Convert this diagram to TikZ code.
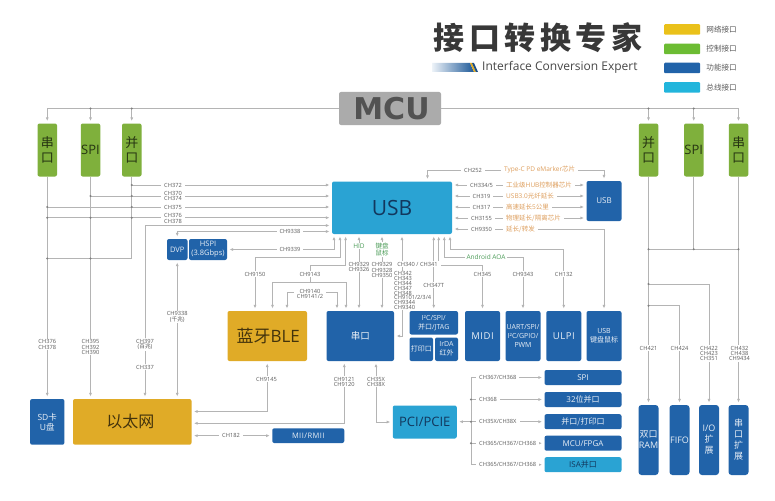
\documentclass[tikz,border=0pt]{standalone}
\usepackage{fontspec}
\setmainfont{Open Sans}
\newfontfamily\cjk{Noto Sans CJK SC}
\newfontfamily\titlecjk[LetterSpace=14.5]{Noto Sans CJK SC}
\newfontfamily\mcufont{DejaVu Sans}
\newfontfamily\widefont[LetterSpace=6]{Open Sans}
\newcommand{\zh}[1]{{\cjk #1}}
\usetikzlibrary{arrows.meta,positioning,shapes}
\definecolor{netgold}{HTML}{E0AB27}
\definecolor{ctrlgreen}{HTML}{7FB03C}
\definecolor{funcblue}{HTML}{2163A9}
\definecolor{buscyan}{HTML}{2AA3D3}
\definecolor{wiregray}{HTML}{B4B4B4}
\definecolor{labgray}{HTML}{5A5A5A}
\definecolor{chiporange}{HTML}{DE9F5E}
\definecolor{hidgreen}{HTML}{4C9C58}
\tikzset{
		basic/.style  = {rectangle, inner sep=0pt, outer sep=0pt, rounded corners=2pt, align=center},
		netbox/.style = {basic, fill=netgold, text=black!70!netgold},
		ctrlbox/.style = {basic, fill=ctrlgreen, text=black!70!ctrlgreen, font=\fontsize{13}{14.5}\selectfont},
		funcbox/.style = {basic, fill=funcblue, text=white!90!funcblue},
		busbox/.style = {basic, fill=buscyan, text=funcblue!55!black},
		legendbox/.style = {rectangle, rounded corners=1pt, minimum width=36pt, minimum height=10.5pt},
		wire/.style = {draw=wiregray, line width=.9pt},
		arr/.style = {wire, ->, shorten >=2.5pt},
		rarr/.style = {wire, <-, shorten <=2.5pt},
		biarr/.style = {wire, <->, shorten >=2.5pt, shorten <=2.5pt},
		lab/.style = {fill=white, inner xsep=3pt, inner ysep=1pt, align=center, text=labgray,
			font=\fontsize{5.7}{5.4}\selectfont},
		chip/.style = {fill=white, inner xsep=3pt, inner ysep=1pt, anchor=west, text=chiporange,
			font=\fontsize{6.5}{7}\selectfont},
		hid/.style = {fill=white, inner xsep=2pt, inner ysep=1pt, align=center, text=hidgreen,
			font=\fontsize{6.5}{7.2}\selectfont}
	}
\begin{document}
\begin{tikzpicture}[x=1pt, y=-1pt, >={Latex[length=3.6pt,width=3pt]}]
		\useasboundingbox (0,0) rectangle (775,500);
		\fill[white] (0,0) rectangle (775,500);
		% title and legend
		\node[text=black!78, font=\fontsize{31}{31}\selectfont\titlecjk\bfseries] (title) at (538,38) {接口转换专家};
		\node[text=black!72, font=\fontsize{12}{14}\selectfont, anchor=west, inner sep=0pt] (subtitle) at (482,67.5) {Interface Conversion Expert};
		\shade[left color=funcblue!8, right color=funcblue!90!black] (432,63) -- (470,63) -- (474,72) -- (432,72) -- cycle;
		\fill[netgold] (470,63) -- (472,63) -- (476,72) -- (474,72) -- cycle;
		\fill[funcblue!80!black] (472,63) -- (474,63) -- (478,72) -- (476,72) -- cycle;
		\node[legendbox, fill=netgold!70!yellow!95!orange] (leg1) at (682,29.5) {};
		\node[legendbox, fill=ctrlgreen!85!green] (leg2) at (682,49) {};
		\node[legendbox, fill=funcblue] (leg3) at (682,68) {};
		\node[legendbox, fill=buscyan!80!cyan] (leg4) at (682,87.5) {};
		\foreach \n/\t in {1/网络接口,2/控制接口,3/功能接口,4/总线接口}
		\node[right=6pt of leg\n, inner sep=0pt, text=labgray, font=\fontsize{7.6}{8}\selectfont\cjk] (legt\n) {\t};
		% the controller and its six columns
		\node[basic, fill=black!33, minimum width=102pt, minimum height=33pt] (mcu) at (390,108.5)
		{\hspace*{3pt}\fontsize{30}{30}\selectfont\mcufont\bfseries\textcolor{black!68}{MCU}};
		\begin{scope}[every node/.style={ctrlbox, minimum width=19.5pt, minimum height=53pt}]
			\node (serl) at (47.25,150) {\zh{串}\\\zh{口}};
			\node (spil) at (90.5,150) {SPI};
			\node (parl) at (131.75,150) {\zh{并}\\\zh{口}};
			\node (parr) at (648.5,150) {\zh{并}\\\zh{口}};
			\node (spir) at (693.75,150) {SPI};
			\node (serr) at (738.5,150) {\zh{串}\\\zh{口}};
		\end{scope}
		% USB and the boxes below it
		\node[busbox, minimum width=120pt, minimum height=52.5pt, font=\fontsize{21}{22}\selectfont] (usb) at (392,207.75) {USB};
		\node[funcbox, minimum width=35pt, minimum height=40pt, font=\fontsize{8}{9}\selectfont] (susb) at (604,201) {USB};
		\begin{scope}[every node/.style={funcbox, font=\fontsize{7.5}{9}\selectfont, minimum height=21pt}]
			\node[minimum width=20.5pt] (dvp) at (177.25,249.5) {DVP};
			\node[minimum width=38pt] (hspi) at (208,249.5) {HSPI\\(3.8Gbps)};
		\end{scope}
		\node[netbox, minimum width=79.5pt, minimum height=50pt, font=\fontsize{17}{20}\selectfont] (bt) at (267.25,336) {\hspace*{2pt}\zh{蓝牙}BLE};
		\begin{scope}[every node/.style={funcbox, font=\fontsize{7}{9}\selectfont}]
			\node[minimum width=67.5pt, minimum height=50pt, font=\fontsize{9.5}{10}\selectfont] (ser) at (360.25,336) {\zh{串口}};
			\node[minimum width=48.5pt, minimum height=23.5pt] (itc) at (433.75,322.75) {I²C/SPI/\\\zh{并口}/JTAG};
			\node[minimum width=23.5pt, minimum height=23.5pt] (prn) at (421.25,349.25) {\zh{打印口}};
			\node[minimum width=23pt, minimum height=23.5pt] (irda) at (446.5,349.25) {IrDA\\\zh{红外}};
			\node[minimum width=35pt, minimum height=50pt, font=\fontsize{9.5}{12}\selectfont\widefont] (midi) at (482.5,336) {MIDI};
			\node[minimum width=35pt, minimum height=50pt] (uart) at (523,336) {UART/SPI/\\I²C/GPIO/\\PWM};
			\node[minimum width=35pt, minimum height=50pt, font=\fontsize{9.5}{12}\selectfont\widefont] (ulpi) at (563.75,336) {ULPI};
			\node[minimum width=35pt, minimum height=50pt] (kbd) at (604,336) {USB\\\zh{键盘鼠标}};
		\end{scope}
		% bottom left
		\node[funcbox, minimum width=34.3pt, minimum height=45.7pt, font=\fontsize{8.5}{10}\selectfont] (sd) at (47.25,421.85) {SD\zh{卡}\\U\zh{盘}};
		\node[netbox, minimum width=118.5pt, minimum height=45.7pt, font=\fontsize{16}{16}\selectfont\cjk] (eth) at (132.25,421.85) {\hspace*{-4pt}以太网};
		\node[funcbox, minimum width=72pt, minimum height=14.7pt, font=\fontsize{7.5}{9}\selectfont\widefont] (mii) at (308.25,435.65) {MII/RMII};
		\node[busbox, minimum width=64pt, minimum height=33pt, font=\fontsize{13}{14}\selectfont] (pci) at (424.75,422) {PCI/PCIE};
		% bus list
		\begin{scope}[every node/.style={funcbox, minimum width=77pt, minimum height=15pt, font=\fontsize{8}{9}\selectfont}]
			\node (lspi) at (583,377.5) {SPI};
			\node (lbit) at (583,399.5) {32\zh{位并口}};
			\node (lpar) at (583,421.7) {\zh{并口/打印口}};
			\node (lmcu) at (583,443.2) {MCU/FPGA};
			\node[busbox] (lisa) at (583,464.7) {ISA\zh{并口}};
		\end{scope}
		% bottom right
		\begin{scope}[every node/.style={funcbox, minimum width=20pt, minimum height=70pt, rounded corners=3pt, font=\fontsize{9}{11}\selectfont}]
			\node (ram) at (648.5,440) {\zh{双口}\\RAM};
			\node (fifo) at (679.5,440) {FIFO};
			\node (io) at (709,440) {I/O\\\zh{扩}\\\zh{展}};
			\node (ext) at (738.5,440) {\zh{串}\\\zh{口}\\\zh{扩}\\\zh{展}};
		\end{scope}
		% connectors from the controller
		\foreach \n in {serl,spil,parl}
		\draw[arr] (mcu.west) -| (\n.north);
		\foreach \n in {parr,spir,serr}
		\draw[arr] (mcu.east) -| (\n.north);
		\coordinate (jl) at (serl.south |- 0,258.5);
		\coordinate (jr) at (spir.south |- 0,249.3);
		\coordinate (jio) at (parr.south |- 0,284);
		\coordinate (jfifo) at (parr.south |- 0,305.7);
		\draw[arr] (serl.south) -- (serl.south |- sd.north);
		\draw[arr] (spil.south) -- (spil.south |- eth.north);
		\draw[wire] (parl.south) |- (jl);
		\draw[arr] (parr.south) -- (parr.south |- ram.north);
		\draw[arr] (serr.south) -- (serr.south |- ext.north);
		\draw[wire] (spir.south) -- (jr);
		\draw[wire] (parr.south |- jr) -- (serr.south |- jr);
		\draw[arr] (jio) -| (io.north);
		\draw[arr] (jfifo) -| (fifo.north);
		% into USB from the left
		\foreach \i/\y in {a/185,b/196,c/207,d/217.7,e/225.5,f/231.5}
		\coordinate (uw\i) at (usb.west |- 0,\y);
		\draw[arr] (parl.south |- uwa) -- (uwa);
		\draw[arr] (spil.south |- uwb) -- (uwb);
		\draw[arr] (serl.south |- uwc) -- (uwc);
		\draw[arr] (serl.south |- uwd) -- (uwd);
		\draw[biarr] (uwe) -| ([xshift=12.75pt]eth.north);
		\draw[biarr] (uwf) -| (dvp.north);
		\draw[biarr] (dvp.south) -- (dvp.south |- eth.north);
		\draw[biarr] (hspi.east) -| ([xshift=2pt]usb.south west);
		% below USB
		\coordinate (j9150) at (300,257.7);
		\coordinate (j9143a) at (310,265.7);
		\coordinate (j9143b) at (310,282.7);
		\coordinate (j9140) at (310,292.7);
		\draw[biarr] ([xshift=8pt]usb.south west) |- (j9150) -| ([xshift=27.5pt]bt.north west);
		\draw[rarr] ([xshift=13.6pt]usb.south west) |- (j9143a) -- (j9143b);
		\draw[arr] (j9143b) -| ([xshift=45pt]bt.north west);
		\draw[arr] (j9143b) -| ([xshift=19.5pt]ser.north west);
		\draw[arr] (j9140) -| ([xshift=59.5pt]bt.north west);
		\draw[arr] (j9140) -| ([xshift=10.5pt]ser.north west);
		\draw[biarr] ([xshift=32.5pt]ser.north west) -- ([xshift=32.5pt]ser.north west |- usb.south);
		\draw[biarr] ([xshift=55.5pt]ser.north west) -- ([xshift=55.5pt]ser.north west |- usb.south);
		\draw[biarr] ([xshift=70pt]usb.south west) |- (ser.east);
		\draw[biarr] (itc.north |- usb.south) -- (itc.north);
		\draw[biarr] ([xshift=106.7pt]usb.south west) |- (midi.north |- 0,265.7) -- (midi.north);
		\draw[biarr] ([xshift=112.3pt]usb.south west) |- (uart.north |- 0,257.3) -- (uart.north);
		\draw[biarr] ([xshift=118pt]usb.south west) |- (ulpi.north |- 0,249.5) -- (ulpi.north);
		% right of USB
		\foreach \y in {185,196,207,218}
		\draw[biarr] (usb.east |- 0,\y) -- (susb.west |- 0,\y);
		\draw[biarr] ([xshift=95.5pt]usb.north west) |- (susb.north |- 0,170) -- (susb.north);
		\draw[biarr] (usb.east |- 0,229) -| (kbd.north);
		% below the serial and bluetooth boxes
		\draw[biarr] (bt.south) |- (eth.east |- 0,411.5);
		\draw[biarr] ([xshift=17.8pt]ser.south west) |- (eth.east |- 0,423.3);
		\draw[biarr] ([xshift=49.5pt]ser.south west) |- (pci.west);
		\draw[biarr] (eth.east |- mii.west) -- (mii.west);
		% bus list connectors
		\coordinate (bus) at (471,0);
		\draw[wire] (bus |- lspi.west) -- (bus |- lisa.west);
		\draw[biarr] (pci.east |- lpar.west) -- (lpar.west);
		\foreach \n in {lspi,lbit,lmcu,lisa}
		\draw[arr] (bus |- \n.west) -- (\n.west);
		% junction dots
		\foreach \p in {spil.south |- mcu.west,parl.south |- mcu.west,parr.south |- mcu.east,spir.south |- mcu.east,
			parl.south |- uwa,spil.south |- uwb,parl.south |- uwb,serl.south |- uwc,parl.south |- uwc,
			serl.south |- uwd,spil.south |- uwd,parl.south |- uwd,jl,spil.south |- jl,
			parr.south |- jr,jr,serr.south |- jr,jio,jfifo,
			bus |- lbit.west,bus |- lpar.west,bus |- lmcu.west}
		\fill[black!50] (\p) circle (1.1pt);
		% channel labels
		\node[lab] (ch372) at (173,185) {CH372};
		\node[lab] (ch370) at (173,196) {CH370\\CH374};
		\node[lab] (ch375) at (173,207) {CH375};
		\node[lab] (ch376) at (173,218.5) {CH376\\CH378};
		\node[lab] (ch9338a) at (290,231.5) {CH9338};
		\node[lab] (ch9339) at (290,249.7) {CH9339};
		\node[lab] (ch376b) at (47.25,344.5) {CH376\\CH378};
		\node[lab] (ch395) at (90.5,347) {CH395\\CH392\\CH390};
		\node[lab] (ch397) at (145,344.5) {CH397\\(\zh{百兆})};
		\node[lab] (ch337) at (145,367) {CH337};
		\node[lab] (ch9338b) at (177.25,317) {CH9338\\(\zh{千兆})};
		\node[lab] (ch9150) at (255,274) {CH9150};
		\node[lab] (ch9143) at (310,274) {CH9143};
		\node[lab] (ch9140) at (310,293.7) {CH9140\\CH9141/2};
		\node[lab, inner ysep=.5pt] (ch9329a) at (359,267) {CH9329\\CH9326};
		\node[lab, inner ysep=.5pt] (ch9329b) at (382,270) {CH9329\\CH9328\\CH9350};
		\node[lab] (ch340) at (417.5,264) {CH340 / CH341};
		\node[lab, inner xsep=1pt, inner ysep=.5pt, align=left, anchor=north west,
			font=\fontsize{5.7}{4.8}\selectfont] (ch342) at (393,271) {CH342\\CH343\\CH344\\CH347\\CH348\\CH9101/2/3/4\\CH9344\\CH9340};
		\node[lab] (ch347t) at (433.75,285) {CH347T};
		\node[lab] (ch345) at (482.5,274) {CH345};
		\node[lab] (ch9343) at (523,274) {CH9343};
		\node[lab] (ch132) at (563.75,274) {CH132};
		\node[lab] (ch252) at (473,170) {CH252};
		\node[lab] (ch334) at (481.5,185) {CH334/5};
		\node[lab] (ch319) at (481.5,196) {CH319};
		\node[lab] (ch317) at (481.5,207) {CH317};
		\node[lab] (ch3155) at (481.5,218) {CH3155};
		\node[lab] (ch9350) at (481.5,229) {CH9350};
		\node[lab] (ch9145) at (266.5,379) {CH9145};
		\node[lab] (ch9121) at (344.3,381.7) {CH9121\\CH9120};
		\node[lab] (ch35x) at (376,381.7) {CH35X\\CH38X};
		\node[lab] (ch182) at (231,435.6) {CH182};
		\node[lab] (ch421) at (648.5,348) {CH421};
		\node[lab] (ch424) at (679.5,348) {CH424};
		\node[lab] (ch422) at (709,353.5) {CH422\\CH423\\CH351};
		\node[lab] (ch432) at (739.5,353.5) {CH432\\CH438\\CH9434};
		% chip labels
		\node[chip] (chipa) at (501,170) {Type-C PD eMarker\zh{芯片}};
		\node[chip] (chipb) at (503,185) {\zh{工业级}HUB\zh{控制器芯片}};
		\node[chip] (chipc) at (503,196) {USB3.0\zh{光纤延长}};
		\node[chip] (chipd) at (503,207) {\zh{高速延长}5\zh{公里}};
		\node[chip] (chipe) at (503,218) {\zh{物理延长/隔离芯片}};
		\node[chip] (chipf) at (503,229) {\zh{延长/转发}};
		\node[hid] (hidl) at (359,246) {HID};
		\node[hid] (kbm) at (382,249.5) {\zh{键盘}\\\zh{鼠标}};
		\node[hid] (aoa) at (486,257.3) {Android AOA};
		% bus list labels
		\begin{scope}[every node/.style={lab, anchor=west}]
			\node (rowa) at (476,377.5) {CH367/CH368};
			\node (rowb) at (476,399.5) {CH368};
			\node (rowc) at (476,421.7) {CH35X/CH38X};
			\node (rowd) at (476,443.2) {CH365/CH367/CH368};
			\node (rowe) at (476,464.7) {CH365/CH367/CH368};
		\end{scope}
	\end{tikzpicture}
\end{document}
